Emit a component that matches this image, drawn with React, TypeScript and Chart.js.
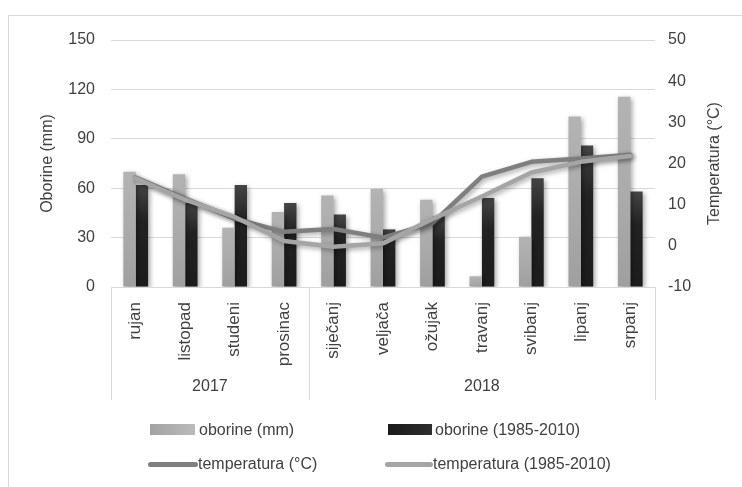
import React, { useEffect, useRef } from "react";
import { Chart, registerables } from "chart.js";

Chart.register(...registerables);

const months = ["rujan", "listopad", "studeni", "prosinac", "siječanj", "veljača", "ožujak", "travanj", "svibanj", "lipanj", "srpanj"];
const years = ["2017", "2018"];
const yearSpans = [4, 7];
const oborine = [70, 68.5, 36, 45.5, 55.5, 59.5, 53, 6.5, 30.5, 103.5, 115.5];
const oborineAvg = [62, 51, 62, 51, 44, 35, 43, 54, 66, 86, 58];
const temperatura = [16.6, 11.5, 6.6, 3.4, 4.1, 2.0, 5.5, 16.8, 20.4, 21.2, 22.1];
const temperaturaAvg = [16.4, 11.2, 7.0, 1.2, -0.2, 0.6, 6.5, 12.0, 17.8, 20.4, 21.8];
const seriesNames = ["oborine (mm)", "oborine (1985-2010)", "temperatura (°C)", "temperatura (1985-2010)"];
const leftTitle = "Oborine (mm)";
const rightTitle = "Temperatura (°C)";

const FONT = '"Liberation Sans", Arial, sans-serif';
const TEXT = "#404040";
const GRID = "#d9d9d9";

function barGradient(light: boolean) {
  return (ctx: any) => {
    const chart = ctx.chart;
    const area = chart.chartArea;
    const y = chart.scales.y;
    if (!area || !y || ctx.type !== "data") return light ? "#ababab" : "#262626";
    const top = y.getPixelForValue(ctx.raw);
    const bottom = area.bottom;
    if (!isFinite(top) || bottom - top < 1) return light ? "#ababab" : "#262626";
    const g = chart.ctx.createLinearGradient(0, top, 0, bottom);
    if (light) {
      g.addColorStop(0, "#b3b3b3");
      g.addColorStop(0.5, "#ababab");
      g.addColorStop(1, "#9f9f9f");
    } else {
      g.addColorStop(0, "#454545");
      g.addColorStop(0.35, "#222222");
      g.addColorStop(1, "#1c1c1c");
    }
    return g;
  };
}

const shadowPlugin = {
  id: "shadowPlugin",
  beforeDatasetDraw(chart: any) {
    const ctx = chart.ctx;
    ctx.save();
    ctx.shadowColor = "rgba(0,0,0,0.35)";
    ctx.shadowBlur = 5;
    ctx.shadowOffsetX = 2;
    ctx.shadowOffsetY = 2;
  },
  afterDatasetDraw(chart: any) {
    chart.ctx.restore();
  },
};

const decorPlugin = {
  id: "decorPlugin",
  afterDraw(chart: any) {
    const ctx = chart.ctx;
    const area = chart.chartArea;
    const n = months.length;
    const w = (area.right - area.left) / n;
    const boxBottom = 400;
    ctx.save();
    ctx.strokeStyle = GRID;
    ctx.lineWidth = 1;
    const bounds: number[] = [area.left];
    let acc = 0;
    yearSpans.forEach((s) => {
      acc += s;
      bounds.push(area.left + acc * w);
    });
    bounds.forEach((x) => {
      const px = Math.round(x) + 0.5;
      ctx.beginPath();
      ctx.moveTo(px, area.bottom);
      ctx.lineTo(px, boxBottom);
      ctx.stroke();
    });
    ctx.fillStyle = TEXT;
    ctx.font = `16px ${FONT}`;
    ctx.textAlign = "center";
    ctx.textBaseline = "middle";
    years.forEach((yr, i) => {
      ctx.fillText(yr, (bounds[i] + bounds[i + 1]) / 2, 387);
    });
    const midY = (area.top + area.bottom) / 2;
    ctx.save();
    ctx.translate(48, midY);
    ctx.rotate(-Math.PI / 2);
    ctx.fillText(leftTitle, 0, 0);
    ctx.restore();
    ctx.save();
    ctx.translate(715, midY);
    ctx.rotate(-Math.PI / 2);
    ctx.fillText(rightTitle, 0, 0);
    ctx.restore();
    ctx.restore();
  },
};

export default function App() {
  const ref = useRef<HTMLCanvasElement | null>(null);
  useEffect(() => {
    if (!ref.current) return;
    const chart = new Chart(ref.current, {
      type: "bar",
      data: {
        labels: months,
        datasets: [
          {
            type: "bar",
            label: seriesNames[0],
            data: oborine,
            yAxisID: "y",
            backgroundColor: barGradient(true) as any,
            categoryPercentage: 0.5,
            barPercentage: 1.0,
            order: 2,
          },
          {
            type: "bar",
            label: seriesNames[1],
            data: oborineAvg,
            yAxisID: "y",
            backgroundColor: barGradient(false) as any,
            categoryPercentage: 0.5,
            barPercentage: 1.0,
            order: 2,
          },
          {
            type: "line",
            label: seriesNames[2],
            data: temperatura,
            yAxisID: "y1",
            borderColor: "#7f7f7f",
            backgroundColor: "#7f7f7f",
            borderWidth: 4.5,
            pointRadius: 0,
            tension: 0,
            borderJoinStyle: "round",
            borderCapStyle: "round",
            order: 1,
          },
          {
            type: "line",
            label: seriesNames[3],
            data: temperaturaAvg,
            yAxisID: "y1",
            borderColor: "#a5a5a5",
            backgroundColor: "#a5a5a5",
            borderWidth: 4.5,
            pointRadius: 0,
            tension: 0,
            borderJoinStyle: "round",
            borderCapStyle: "round",
            order: 0,
          },
        ] as any,
      },
      options: {
        responsive: false,
        animation: false,
        layout: { padding: { top: 40, left: 0, right: 0, bottom: 0 } },
        plugins: {
          legend: { display: false },
          tooltip: { enabled: false },
        },
        scales: {
          x: {
            grid: { display: false, drawTicks: false },
            border: { display: false },
            ticks: {
              minRotation: 90,
              maxRotation: 90,
              autoSkip: false,
              padding: 15,
              color: TEXT,
              font: { size: 17, family: FONT },
            },
            afterFit: (s: any) => {
              s.height = 200;
            },
          },
          y: {
            position: "left",
            min: 0,
            max: 150,
            grid: { color: GRID, drawTicks: false, lineWidth: 1 },
            border: { display: false },
            ticks: { stepSize: 30, padding: 16, color: TEXT, font: { size: 16, family: FONT } },
            afterFit: (s: any) => {
              s.width = 111;
            },
          },
          y1: {
            position: "right",
            min: -10,
            max: 50,
            grid: { display: false, drawTicks: false },
            border: { display: false },
            ticks: { stepSize: 10, padding: 13, color: TEXT, font: { size: 16, family: FONT } },
            afterFit: (s: any) => {
              s.width = 87;
            },
          },
        },
      } as any,
      plugins: [shadowPlugin, decorPlugin],
    });
    return () => chart.destroy();
  }, []);

  const textStyle: React.CSSProperties = {
    position: "absolute",
    fontFamily: FONT,
    fontSize: 16,
    color: TEXT,
    lineHeight: "18px",
    whiteSpace: "nowrap",
  };

  return (
    <div style={{ position: "fixed", left: 0, top: 0, width: 742, height: 487, overflow: "hidden", background: "#fff" }}>
      <div style={{ position: "absolute", left: 8, top: 15, width: 800, height: 600, border: `1px solid ${GRID}` }} />
      <canvas ref={ref} width={742} height={487} style={{ position: "absolute", left: 0, top: 0, display: "block" }} />
      <div style={{ position: "absolute", left: 150, top: 424, width: 45, height: 11, background: "linear-gradient(to right, #a2a2a2, #bbbbbb)" }} />
      <div style={{ ...textStyle, left: 199, top: 421 }}>{seriesNames[0]}</div>
      <div style={{ position: "absolute", left: 388, top: 424, width: 44, height: 11, background: "linear-gradient(to right, #1a1a1a, #2e2e2e)" }} />
      <div style={{ ...textStyle, left: 435, top: 421 }}>{seriesNames[1]}</div>
      <div style={{ position: "absolute", left: 148, top: 462, width: 50, height: 5, borderRadius: 3, background: "#7f7f7f" }} />
      <div style={{ ...textStyle, left: 198, top: 455 }}>{seriesNames[2]}</div>
      <div style={{ position: "absolute", left: 385, top: 462, width: 48, height: 5, borderRadius: 3, background: "#a5a5a5" }} />
      <div style={{ ...textStyle, left: 433, top: 455 }}>{seriesNames[3]}</div>
    </div>
  );
}
